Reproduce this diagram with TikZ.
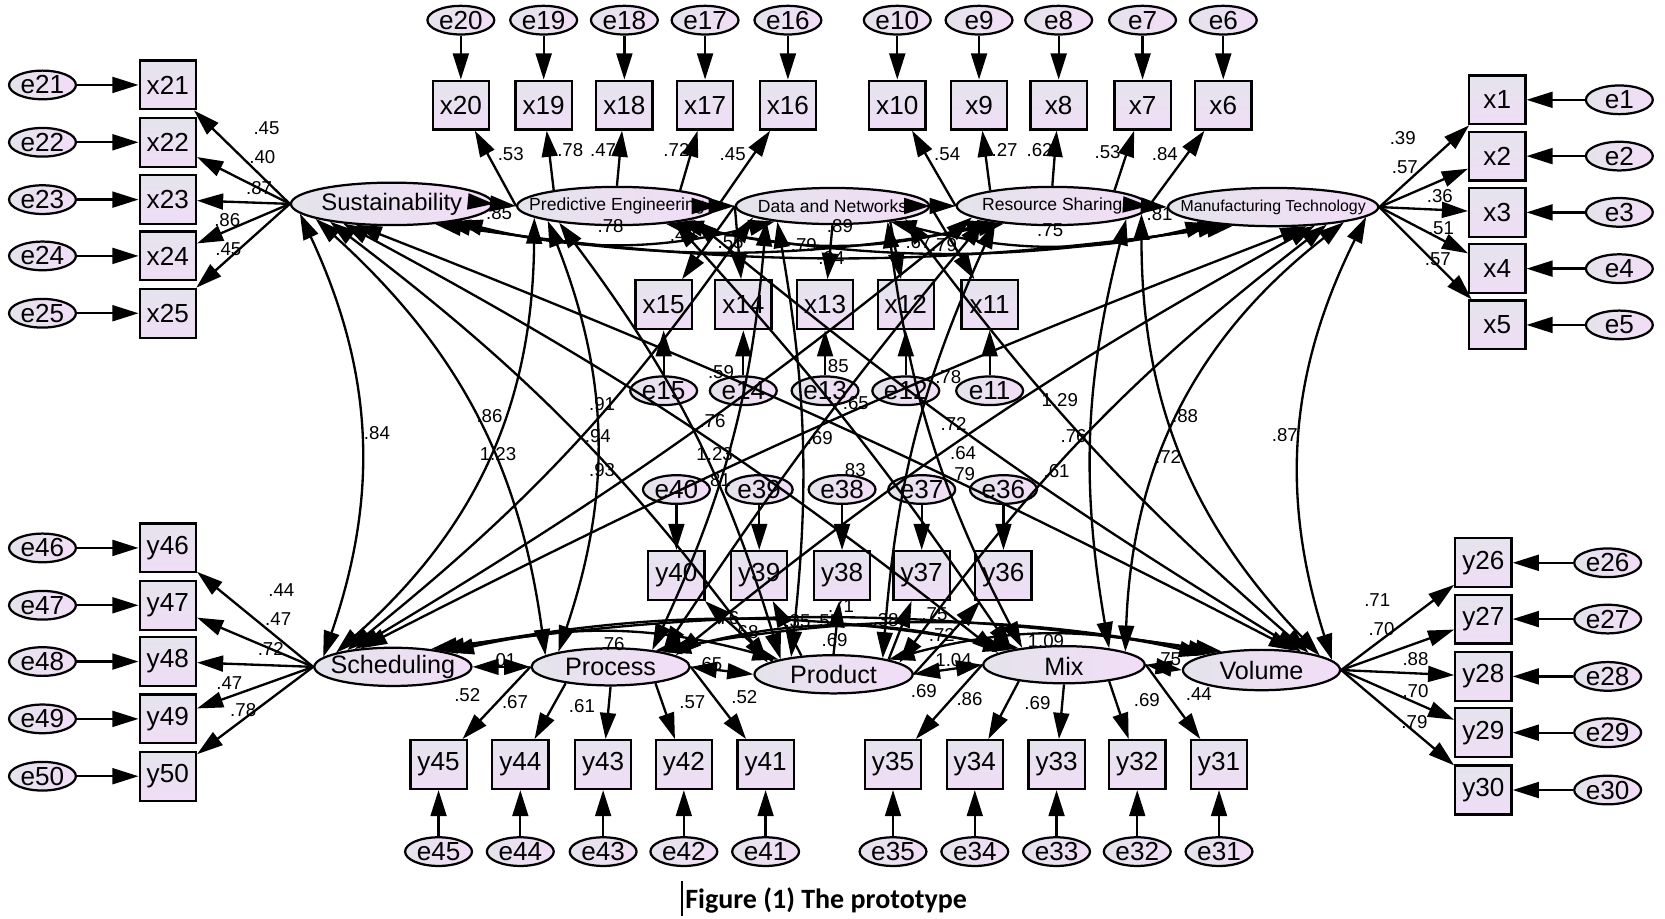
\documentclass[tikz,border=0pt]{standalone}
\usepackage{fontspec}
\setmainfont{Liberation Sans}
\newfontfamily\capfont{Carlito}
\usetikzlibrary{arrows.meta,shapes.geometric}

\definecolor{boxtop}{RGB}{229,228,237}
\definecolor{boxbot}{RGB}{240,221,246}
\definecolor{ellL}{RGB}{228,227,235}
\definecolor{ellR}{RGB}{242,221,247}

\newcommand{\obsfont}{\fontsize{14}{16}\selectfont}
\newcommand{\estfont}{\fontsize{10}{12}\selectfont}
\newcommand{\latbig}{\fontsize{13.5}{16}\selectfont}
\newcommand{\latsmall}{\fontsize{9.4}{11}\selectfont}

\tikzset{
  obs/.style={rectangle, draw, line width=1.2pt, top color=boxtop, bottom color=boxbot,
    minimum width=1.06cm, minimum height=0.92cm, inner sep=0pt, font=\obsfont},
  err/.style={ellipse, draw, line width=1.2pt, left color=ellL, right color=ellR,
    minimum width=1.26cm, minimum height=0.54cm, inner sep=0pt, font=\obsfont},
  lat/.style={ellipse, draw, line width=1.2pt, left color=ellL, right color=ellR, inner sep=0pt},
  reg/.style={line width=1.25pt, -{Triangle[length=14pt,width=8.5pt]}},
  cov/.style={line width=1.25pt, {Triangle[length=14pt,width=8.5pt]}-{Triangle[length=14pt,width=8.5pt]}},
  est/.style={font=\estfont, inner sep=0pt}
}

\begin{document}
\begin{tikzpicture}[x=0.02cm, y=-0.02cm]
    \useasboundingbox (0,0) rectangle (1568,865);

    % Latent variables, top row
    \node[lat, minimum width=3.8cm, minimum height=0.8cm, label={[font=\fontsize{12.8}{15}\selectfont]center:Sustainability}] (sus) at (369,192) {};
    \node[lat, minimum width=3.76cm, minimum height=0.72cm, label={[font=\latsmall]center:Predictive Engineering}] (pred) at (581,194) {};
    \node[lat, minimum width=3.64cm, minimum height=0.68cm, label={[font=\latsmall]center:Data and Networks}] (data) at (784,194) {};
    \node[lat, minimum width=3.6cm, minimum height=0.72cm, label={[font=\latsmall]center:Resource Sharing}] (res) at (991,194) {};
    \node[lat, minimum width=3.96cm, minimum height=0.72cm, label={[font=\fontsize{8.5}{10}\selectfont]center:Manufacturing Technology}] (manu) at (1199,195) {};

    % Latent variables, bottom row
    \node[lat, minimum width=2.96cm, minimum height=0.72cm, label={[font=\latbig]center:Scheduling}] (sched) at (370,628) {};
    \node[lat, minimum width=2.98cm, minimum height=0.7cm, label={[font=\latbig]center:Process}] (proc) at (575,628) {};
    \node[lat, minimum width=2.98cm, minimum height=0.72cm, label={[font=\latbig]center:Product}] (prod) at (785,635) {};
    \node[lat, minimum width=3.04cm, minimum height=0.7cm, label={[font=\latbig, yshift=-1pt]center:Mix}] (mix) at (1002,626) {};
    \node[lat, minimum width=2.96cm, minimum height=0.76cm, label={[font=\latbig]center:Volume}] (vol) at (1188,631) {};

    % Indicators with their errors
    \foreach \n/\py in {21/80,22/134,23/188,24/241,25/295} {
        \node[obs] (x\n) at (158,\py) {x\n};
        \node[err] (e\n) at (40,\py) {e\n};
        \draw[reg] (e\n) -- (x\n);
    }
    \foreach \n/\py in {46/516,47/570,48/623,49/677,50/731} {
        \node[obs] (y\n) at (158,\py) {y\n};
        \node[err] (e\n) at (40,\py) {e\n};
        \draw[reg] (e\n) -- (y\n);
    }
    \foreach \n/\py in {1/94,2/147,3/200,4/253,5/306} {
        \node[obs] (x\n) at (1410,\py) {x\n};
        \node[err] (e\n) at (1525,\py) {e\n};
        \draw[reg] (e\n) -- (x\n);
    }
    \foreach \n/\py in {26/530,27/583,28/637,29/690,30/744} {
        \node[obs] (y\n) at (1397,\py) {y\n};
        \node[err] (e\n) at (1514,\py) {e\n};
        \draw[reg] (e\n) -- (y\n);
    }
    \foreach \n/\px in {20/434,19/512,18/588,17/664,16/742,10/845,9/922,8/997,7/1076,6/1152} {
        \node[err] (e\n) at (\px,19) {e\n};
        \node[obs] (x\n) at (\px,99) {x\n};
        \draw[reg] (e\n) -- (x\n);
    }
    \foreach \n/\px in {15/625,14/700,13/777,12/853,11/932} {
        \node[obs] (x\n) at (\px,287) {x\n};
        \node[err] (e\n) at (\px,368) {e\n};
        \draw[reg] (e\n) -- (x\n);
    }
    \foreach \n/\px in {40/637,39/715,38/793,37/868,36/945} {
        \node[err] (e\n) at (\px,461) {e\n};
        \node[obs] (y\n) at (\px,542) {y\n};
        \draw[reg] (e\n) -- (y\n);
    }
    \foreach \n/\px in {45/413,44/490,43/568,42/644,41/721,35/841,34/918,33/995,32/1071,31/1148} {
        \node[obs] (y\n) at (\px,720) {y\n};
        \node[err] (e\n) at (\px,802) {e\n};
        \draw[reg] (e\n) -- (y\n);
    }

    % Loadings
    \foreach \n in {21,...,25} \draw[reg] (sus.west) -- (x\n);
    \draw[reg] (pred.west) -- (x20);
    \draw[reg] (pred.166) -- (x19);
    \draw[reg] (pred.north) -- (x18);
    \draw[reg] (pred.14) -- (x17);
    \draw[reg] (pred.east) -- (x16);
    \draw[reg] (data.west) -- (x15);
    \draw[reg] (data.west) -- (x14);
    \draw[reg] (data.south) -- (x13);
    \draw[reg] (data.345) -- (x12);
    \draw[reg] (data.east) -- (x11);
    \draw[reg] (res.west) -- (x10);
    \draw[reg] (res.166) -- (x9);
    \draw[reg] (res.north) -- (x8);
    \draw[reg] (res.14) -- (x7);
    \draw[reg] (res.east) -- (x6);
    \foreach \n in {1,...,5} \draw[reg] (manu.east) -- (x\n);
    \foreach \n in {46,...,50} \draw[reg] (sched.west) -- (y\n);
    \draw[reg] (proc.west) -- (y45);
    \draw[reg] (proc.200) -- (y44);
    \draw[reg] (proc.south) -- (y43);
    \draw[reg] (proc.340) -- (y42);
    \draw[reg] (proc.east) -- (y41);
    \draw[reg] (prod.168) -- (y40);
    \draw[reg] (prod.150) -- (y39);
    \draw[reg] (prod.north) -- (y38);
    \draw[reg] (prod.15) -- (y37);
    \draw[reg] (prod.east) -- (y36);
    \draw[reg] (mix.west) -- (y35);
    \draw[reg] (mix.200) -- (y34);
    \draw[reg] (mix.south) -- (y33);
    \draw[reg] (mix.340) -- (y32);
    \draw[reg] (mix.east) -- (y31);
    \foreach \n in {26,...,30} \draw[reg] (vol.east) -- (y\n);

    % Covariances, top row
    \draw[cov] (sus.east) -- (pred.west);
    \draw[cov] (pred.east) -- (data.west);
    \draw[cov] (data.east) -- (res.west);
    \draw[cov] (res.east) -- (manu.west);
    \draw[cov] (sus.345) to[bend right=14] (data.195);
    \draw[cov] (sus.340) to[bend right=10] (res.200);
    \draw[cov] (sus.335) to[bend right=8] (manu.205);
    \draw[cov] (pred.345) to[bend right=14] (res.195);
    \draw[cov] (pred.340) to[bend right=10] (manu.200);
    \draw[cov] (data.345) to[bend right=14] (manu.195);

    % Covariances, bottom row
    \draw[cov] (sched.east) -- (proc.west);
    \draw[cov] (proc.east) -- (prod.west);
    \draw[cov] (prod.east) -- (mix.west);
    \draw[cov] (mix.east) -- (vol.west);
    \draw[cov] (sched.15) to[bend left=14] (prod.165);
    \draw[cov] (sched.20) to[bend left=10] (mix.160);
    \draw[cov] (sched.25) to[bend left=8] (vol.155);
    \draw[cov] (proc.15) to[bend left=14] (mix.165);
    \draw[cov] (proc.20) to[bend left=10] (vol.160);
    \draw[cov] (prod.15) to[bend left=14] (vol.165);

    % Covariances between the rows
    \draw[cov] (sus.186) to[bend left=22] (sched.172);
    \draw[cov] (sus.191) to[bend left=20] (proc.170);
    \draw[cov] (sus.196) to[bend left=8] (prod.170);
    \draw[cov] (sus.202) to[bend left=5] (mix.170);
    \draw[cov] (sus.210) to[bend left=3] (vol.30);
    \draw[cov] (pred.188) to[bend left=24] (sched.166);
    \draw[cov] (pred.192) to[bend left=20] (proc.164);
    \draw[cov] (pred.196) to[bend left=10] (prod.164);
    \draw[cov] (pred.344) to[bend left=4] (mix.164);
    \draw[cov] (pred.350) to[bend right=4] (vol.25);
    \draw[cov] (data.188) to[bend left=8] (sched.160);
    \draw[cov] (data.192) to[bend left=10] (proc.22);
    \draw[cov] (data.196) to[bend left=8] (prod.158);
    \draw[cov] (data.344) to[bend right=10] (mix.158);
    \draw[cov] (data.350) to[bend right=6] (vol.20);
    \draw[cov] (res.188) to[bend left=4] (sched.155);
    \draw[cov] (res.192) to[bend right=3] (proc.16);
    \draw[cov] (res.196) to[bend right=10] (prod.18);
    \draw[cov] (res.350) to[bend right=12] (mix.20);
    \draw[cov] (res.355) to[bend right=22] (vol.14);
    \draw[cov] (manu.330) to[bend right=3] (sched.150);
    \draw[cov] (manu.336) to[bend right=5] (proc.10);
    \draw[cov] (manu.342) to[bend right=8] (prod.10);
    \draw[cov] (manu.348) to[bend right=25] (mix.12);
    \draw[cov] (manu.354) to[bend right=22] (vol.8);

    % Estimates
    \foreach \px/\py/\lab [count=\k] in {
        251/121/.45, 247/148/.40, 244/177/.87, 214/207/.86, 215/235/.45,
        481/145/.53, 537/141/.78, 568/141/.47, 637/141/.72, 690/145/.45,
        892/145/.54, 946/141/.27, 979/141/.62, 1043/143/.53, 1097/145/.84,
        1321/130/.39, 1323/157/.57, 1356/185/.36, 1357/215/.51, 1354/244/.57,
        265/556/.44, 262/583/.47, 255/611/.72, 216/643/.47, 229/669/.78,
        440/655/.52, 485/661/.67, 548/665/.61, 652/661/.57, 701/656/.52,
        870/651/.69, 913/658/.86, 977/662/.69, 1080/659/.69, 1129/654/.44,
        1297/565/.71, 1301/592/.70, 1333/621/.88, 1333/651/.70, 1332/680/.79,
        470/201/.85, 575/213/.78, 643/221/.49, 688/228/.55, 791/213/.89, 757/231/.79,
        783/243/.94, 865/228/.67, 889/231/.79, 920/221/.62, 989/217/.75, 1092/202/.81,
        355/408/.84, 461/392/.86, 469/428/1.23, 567/381/.91, 563/411/.94, 567/443/.93,
        671/397/.76, 673/428/1.23, 679/350/.59, 787/345/.85, 806/380/.65, 772/413/.69,
        803/443/.83, 893/355/.78, 898/399/.72, 907/427/.64, 676/452/.81, 906/446/.79,
        998/377/1.29, 1011/411/.76, 995/444/.61, 1116/392/.88, 1100/430/.72, 1210/410/.87,
        474/622/.01, 576/607/.76, 668/625/.65, 786/603/.69, 898/622/1.04, 985/604/1.09,
        1100/621/.75, 684/582/.76, 702/595/.68, 751/585/.35, 779/585/.55, 792/571/.71,
        834/584/.38, 880/578/.75, 887/598/.72}
        \node[est] (w\k) at (\px,\py) {\lab};

    % Caption
    \node[anchor=west, inner sep=0pt, font={\capfont\bfseries\fontsize{15}{18}\selectfont}] (caption) at (641,846)
        {\rule[-0.28em]{0.8pt}{1.25em}\hspace{1.5pt}Figure (1) The prototype};
\end{tikzpicture}
\end{document}
